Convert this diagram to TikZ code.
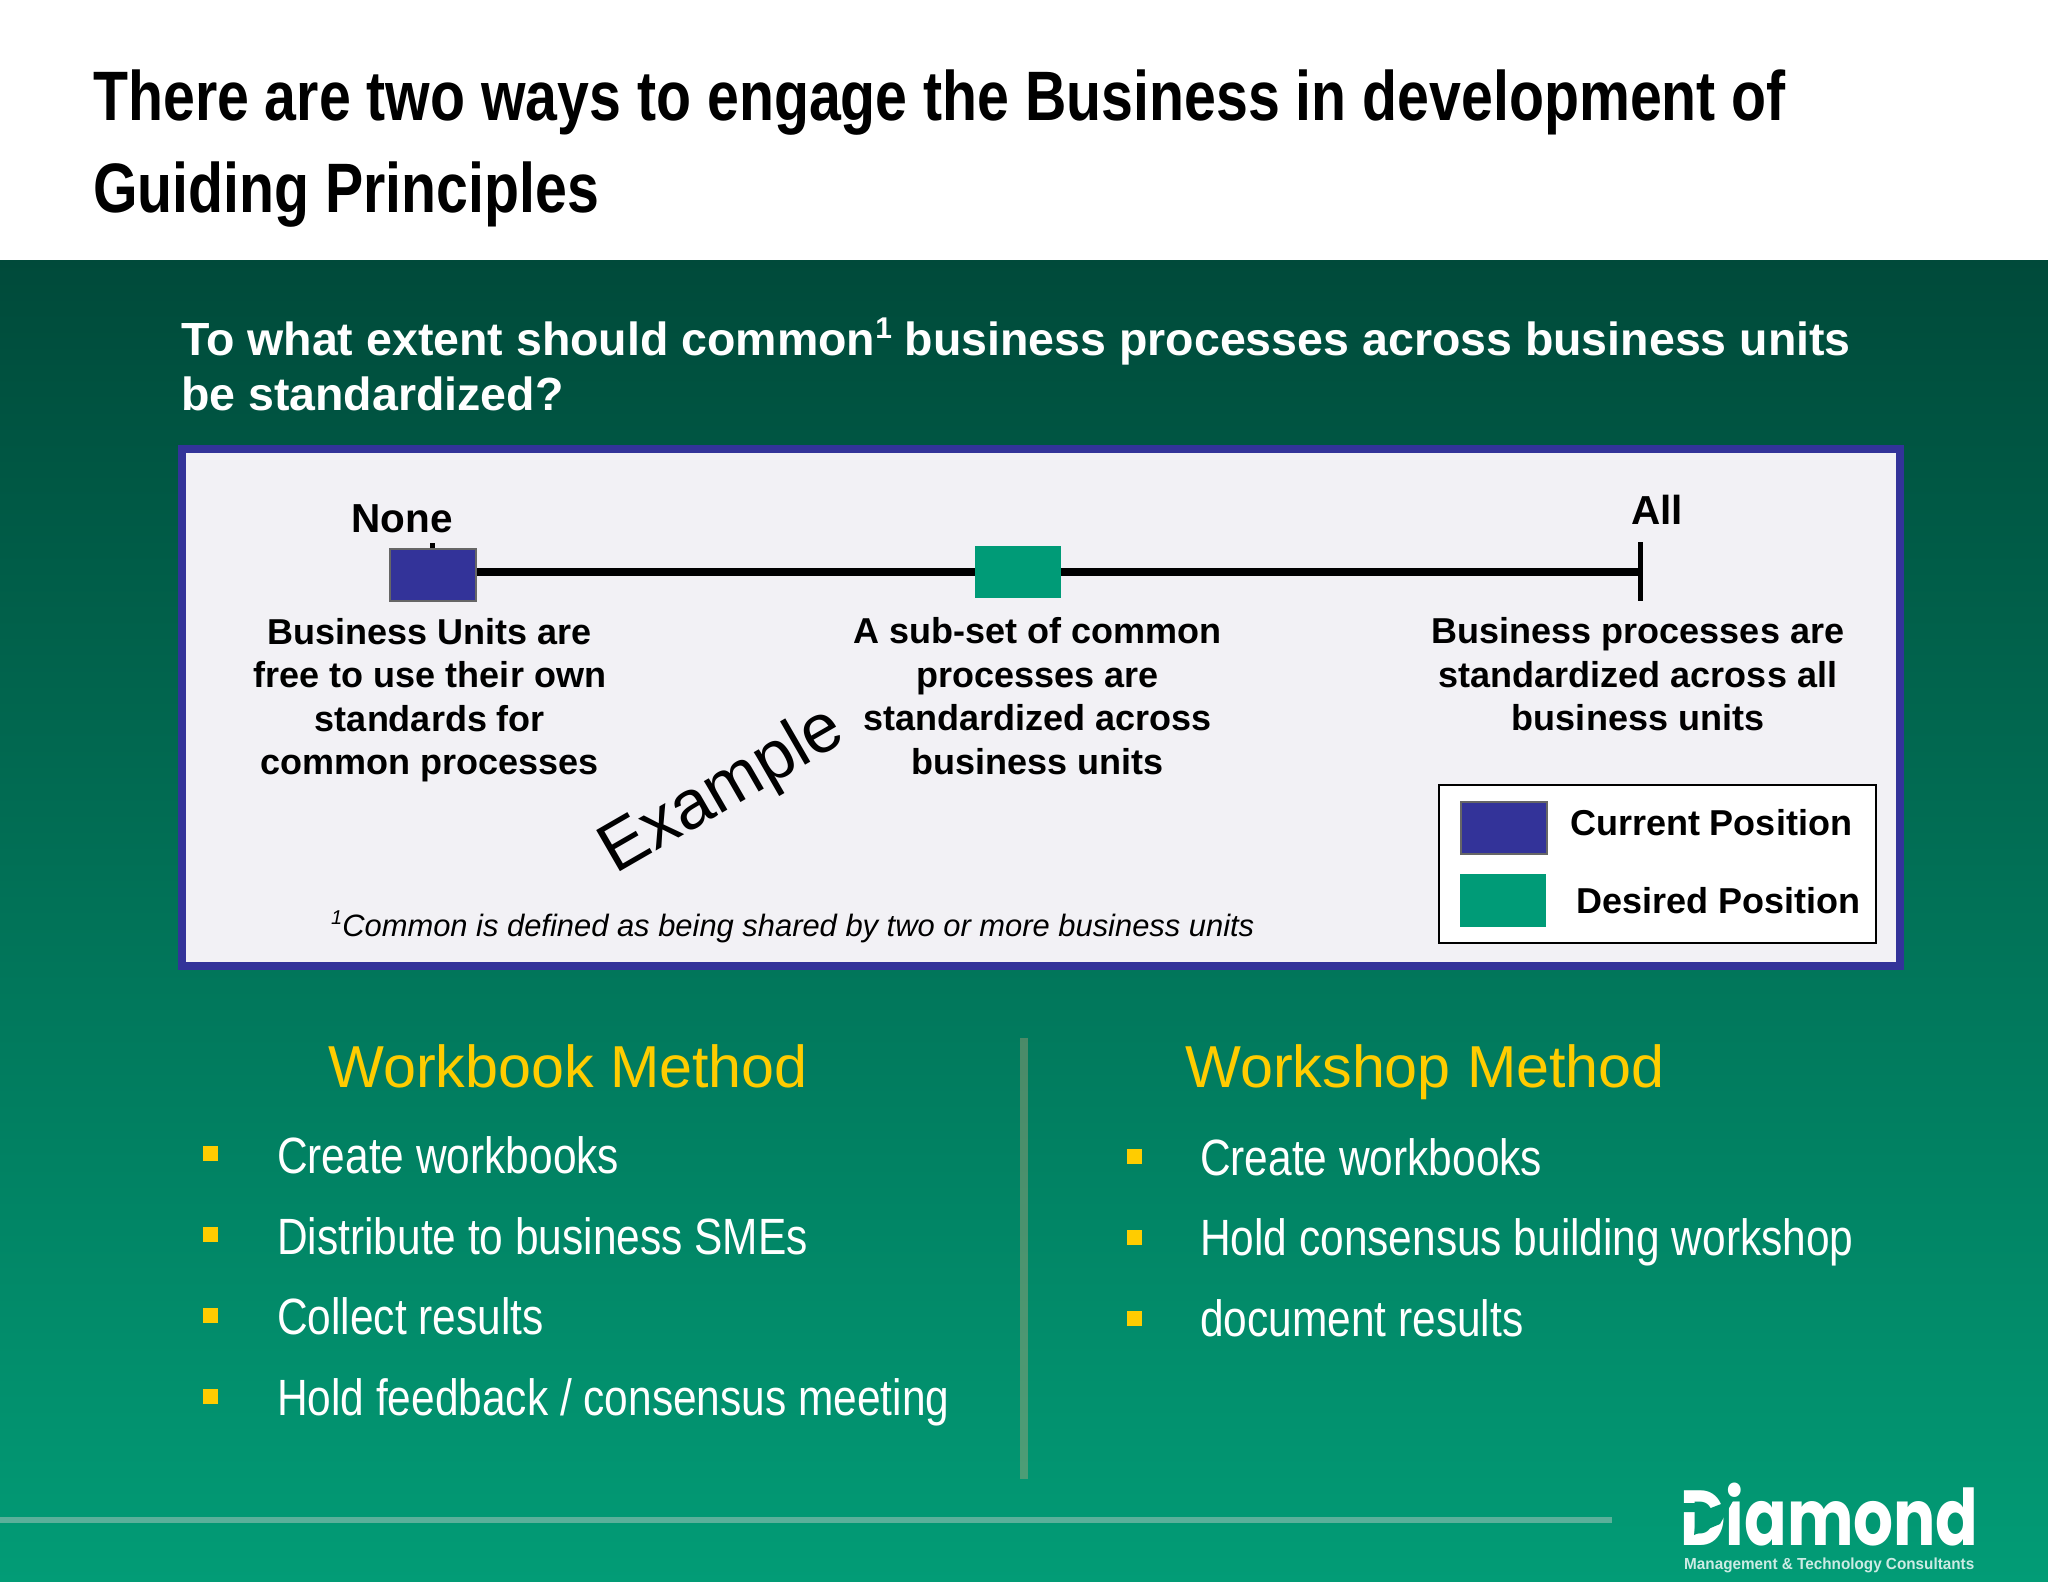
\documentclass[tikz,border=0pt]{standalone}
\usepackage{fontspec}
\setmainfont{Liberation Sans}
\newfontfamily\titlef[FakeStretch=0.818]{Liberation Sans}
\newfontfamily\bulletf[FakeStretch=0.832]{Liberation Sans}
\newfontfamily\logof[FakeStretch=0.805]{Poppins}
\newfontfamily\tagf[FakeStretch=0.955]{Liberation Sans}
\definecolor{gtop}{HTML}{004A3A}
\definecolor{gbot}{HTML}{029C76}
\definecolor{logobg}{HTML}{029873}
\definecolor{panelfill}{HTML}{F2F1F5}
\definecolor{navy}{HTML}{333399}
\definecolor{seagreen}{HTML}{009B77}
\definecolor{gold}{HTML}{FFCC00}
\definecolor{rulegreen}{HTML}{5BB09A}
\definecolor{divtint}{HTML}{F8B083}
\newcommand{\supone}{\raisebox{0.36em}{\fontsize{30}{30}\selectfont 1}}
\tikzset{
  titletext/.style={anchor=base west,inner sep=0pt,text=black,font=\titlef\bfseries\fontsize{70}{84}\selectfont},
  subtext/.style={anchor=base west,inner sep=0pt,text=white,font=\bfseries\fontsize{46.5}{56}\selectfont},
  endlabel/.style={inner sep=0pt,text=black,font=\bfseries\fontsize{40.5}{48}\selectfont},
  desc/.style={inner sep=0pt,align=center,text=black,font=\bfseries\fontsize{36}{43.5}\selectfont},
  legendtext/.style={inner sep=0pt,text=black,font=\bfseries\fontsize{36}{43}\selectfont},
  currentbox/.style={draw=black!60,line width=2pt,fill=navy,inner sep=0pt},
  desiredbox/.style={fill=seagreen,inner sep=0pt},
  heading/.style={anchor=base,inner sep=0pt,text=gold,font=\fontsize{59.2}{70}\selectfont},
  bullettext/.style={anchor=base west,inner sep=0pt,text=white,font=\bulletf\fontsize{51}{61}\selectfont},
  bulletmark/.style={fill=gold,inner sep=0pt,minimum size=15pt},
  timeline/.style={line width=7.5pt,black},
}
\begin{document}
\begin{tikzpicture}[x=1pt,y=-1pt]
\useasboundingbox (0,0) rectangle (2048,1582);
\fill[white] (0,0) rectangle (2048,260);
\shade[top color=gtop,bottom color=gbot,shading angle=0] (0,260) rectangle (2048,1582);
% title
\node[titletext] (title1) at (93,120) {There are two ways to engage the Business in development of};
\node[titletext] (title2) at (93,212.5) {Guiding Principles};
\node[subtext] (sub1) at (181,355) {To what extent should common\supone{} business processes across business units};
\node[subtext] (sub2) at (181,410.5) {be standardized?};
% panel
\draw[navy,fill=panelfill,line width=8pt] (182,449) rectangle (1900,966);
% timeline
\node[endlabel] (none) at (402,519) {None};
\node[endlabel] (all) at (1657,510) {All};
\coordinate (tickA) at (432,543);
\coordinate (tickB) at (432,575);
\coordinate (allTop) at (1640,542);
\coordinate (allBot) at (1640,601);
\coordinate (allMid) at (1640,572);
\draw[line width=5pt] (tickA) -- (tickB);
\draw[line width=5pt] (allTop) -- (allBot);
\node[currentbox,minimum width=86pt,minimum height=52pt] (cur) at (433,575) {};
\node[desiredbox,minimum width=86pt,minimum height=52.5pt] (des) at (1018,572) {};
\draw[timeline] (cur.east |- allMid) -- (des.west |- allMid);
\draw[timeline] (des.east |- allMid) -- (allMid);
% descriptions
\node[desc] (d1) at (430,700) {Business Units are\\free to use their own\\standards for\\common processes};
\node[desc] (d2) at (1037.5,696) {A sub-set of common\\processes are\\standardized across\\business units};
\node[desc] (d3) at (1638,674.5) {Business processes are\\standardized across all\\business units};
\node[inner sep=0pt,rotate=30,font=\fontsize{69}{80}\selectfont] (ex) at (723,792) {Example};
\node[anchor=base west,inner sep=0pt,font=\itshape\fontsize{30.9}{36}\selectfont] (foot) at (331,936) {\raisebox{0.36em}{\fontsize{20}{20}\selectfont\itshape 1}Common is defined as being shared by two or more business units};
% legend
\node[draw=black,line width=2.5pt,fill=white,minimum width=437pt,minimum height=158pt,inner sep=0pt] (legend) at (1657.5,864) {};
\node[currentbox,minimum width=86pt,minimum height=52pt] (lcur) at (1503.5,828) {};
\node[desiredbox,minimum width=86pt,minimum height=53pt] (ldes) at (1503,900.5) {};
\node[legendtext] (lt1) at (1711,823) {Current Position};
\node[legendtext] (lt2) at (1718.5,900.5) {Desired Position};
% methods
\node[heading] (wb) at (568,1087) {Workbook Method};
\node[heading] (ws) at (1425,1087) {Workshop Method};
\node (divtop) [inner sep=0pt] at (1024,1037) {};
\node (divbot) [inner sep=0pt] at (1024,1480) {};
\draw[divtint,opacity=0.3,line width=8pt] (divtop) -- (divbot);
\foreach \n/\yb/\ym/\t in {a/1173/1153/{Create workbooks},b/1254/1234/{Distribute to business SMEs},c/1334/1315/{Collect results},d/1415/1396/{Hold feedback / consensus meeting}}{
  \node[bulletmark] (lm\n) at (210,\ym) {};
  \node[bullettext] (lt\n) at (277,\yb) {\t};
}
\foreach \n/\yb/\ym/\t in {a/1175/1156/{Create workbooks},b/1255/1237/{Hold consensus building workshop},c/1336/1318/{document results}}{
  \node[bulletmark] (rm\n) at (1134,\ym) {};
  \node[bullettext] (rt\n) at (1200,\yb) {\t};
}
% footer
\coordinate (ruleL) at (0,1520);
\coordinate (ruleR) at (1612,1520);
\draw[rulegreen,line width=5.5pt] (ruleL) -- (ruleR);
\node[anchor=base west,inner sep=0pt,text=white,font=\logof\bfseries\fontsize{78}{90}\selectfont] (logo) at (1680,1545) {Diamond};
% cut of the stylised D: the leaf and the notch
\fill[logobg] (1682,1503) -- (1697,1503) -- (1698,1513) -- (1734,1499) -- (1720,1524) -- (1694,1535) -- (1697,1512) -- (1682,1512) -- cycle;
\node[anchor=base west,inner sep=0pt,text=white!80!seagreen,font=\tagf\bfseries\fontsize{16}{20}\selectfont] (tag) at (1684,1569) {Management \& Technology Consultants};
\end{tikzpicture}
\end{document}
